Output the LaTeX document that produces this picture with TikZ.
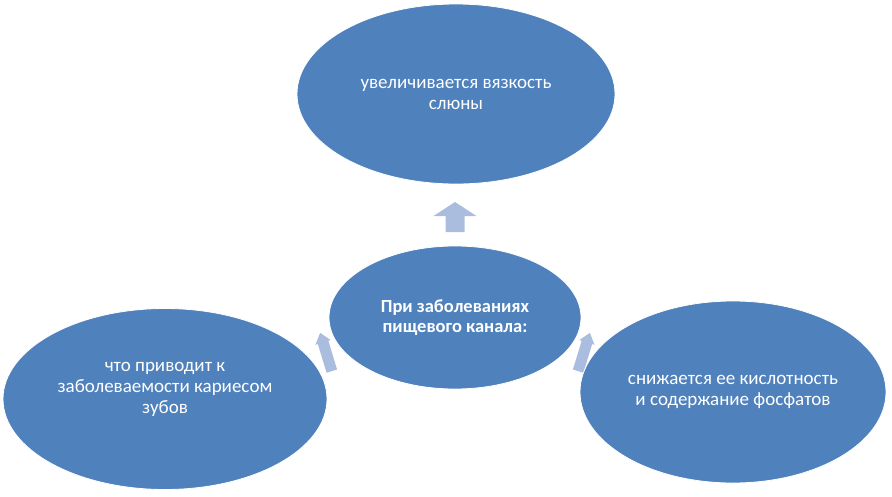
\documentclass[tikz,border=0pt]{standalone}
\usepackage{fontspec}
\setmainfont{Carlito}
\usetikzlibrary{shapes.geometric}
\definecolor{ovalblue}{RGB}{79,129,189}
\definecolor{arrblue}{RGB}{170,189,222}

\begin{document}
\begin{tikzpicture}[x=1pt, y=-1pt]
    \tikzstyle{oval} = [shape=ellipse, draw=white, fill=ovalblue, line width=0.8pt, inner sep=0pt, text=white, align=center, font=\fontsize{19}{21}\selectfont]
    \tikzstyle{arr} = [fill=arrblue]
    \useasboundingbox (0,0) rectangle (892,496);

    % block arrows behind the ovals
    \begin{scope}[shift={(455,217)}]
        \fill [arr] (0,-15) -- (21.5,-1) -- (9.5,-1) -- (9.5,15) -- (-9.5,15) -- (-9.5,-1) -- (-21.5,-1) -- cycle;
    \end{scope}
    \begin{scope}[shift={(326,352)}, rotate=17]
        \fill [arr] (0,-20) -- (8,-10) -- (5.5,-10) -- (5.5,20) -- (-5.5,20) -- (-5.5,-10) -- (-8,-10) -- cycle;
    \end{scope}
    \begin{scope}[shift={(584,352)}, rotate=-17]
        \fill [arr] (0,-20) -- (8,-10) -- (5.5,-10) -- (5.5,20) -- (-5.5,20) -- (-5.5,-10) -- (-8,-10) -- cycle;
    \end{scope}

    \node (e1) [oval, minimum width=318, minimum height=180] at (456,94) {увеличивается вязкость\\слюны};
    \node (e2) [oval, minimum width=324, minimum height=181] at (165,399)
        {что приводит к\\заболеваемости кариесом\\зубов\\[2pt]};
    \node (e3) [oval, minimum width=306, minimum height=182] at (733,392) {снижается ее кислотность\\и содержание фосфатов};
    \node (e0) [oval, minimum width=252, minimum height=143, font=\fontsize{18.5}{20.5}\selectfont\bfseries] at (455,317.5) {При заболеваниях\\пищевого канала:};
\end{tikzpicture}
\end{document}
